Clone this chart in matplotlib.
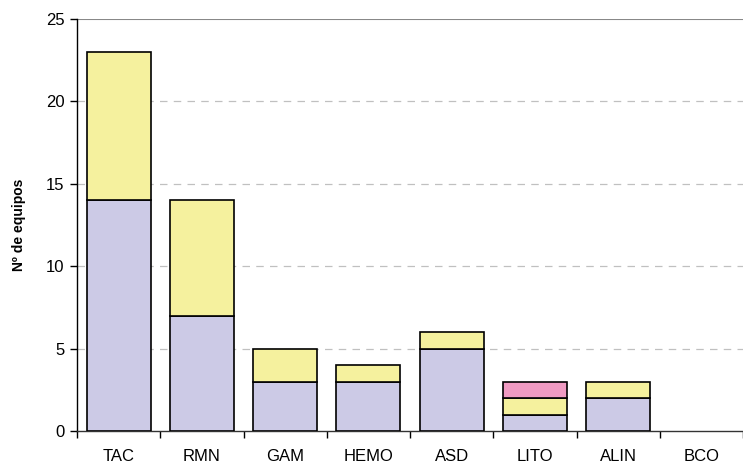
import matplotlib.pyplot as plt
import numpy as np

plt.rcParams['font.family'] = ['Liberation Sans', 'DejaVu Sans']

categorias = ['TAC', 'RMN', 'GAM', 'HEMO', 'ASD', 'LITO', 'ALIN', 'BCO']
serie_base = [14, 7, 3, 3, 5, 1, 2, 0]
serie_media = [9, 7, 2, 1, 1, 1, 1, 0]
serie_alta = [0, 0, 0, 0, 0, 1, 0, 0]

colores = ['#CCCAE6', '#F5F19E', '#F09AC2']

fig = plt.figure(figsize=(7.43, 4.63), dpi=100)
ax = fig.add_axes([77 / 743, 32 / 463, 1 - 77 / 743, 412 / 463])

x = np.arange(len(categorias))
ancho = 0.77
fondo = np.zeros(len(categorias))
for serie, color in zip([serie_base, serie_media, serie_alta], colores):
    vals = np.array(serie, dtype=float)
    mask = vals > 0
    ax.bar(x[mask], vals[mask], ancho, bottom=fondo[mask], color=color,
           edgecolor='black', linewidth=1.2, zorder=3)
    fondo += vals

ax.set_xlim(-0.5, len(categorias) - 0.5)
ax.set_ylim(0, 25)
ax.set_yticks([0, 5, 10, 15, 20, 25])
for y in [5, 10, 15, 20]:
    ax.axhline(y, color='#C0C0C0', linestyle=(0, (6, 5)), linewidth=0.9, zorder=1)
ax.axhline(25, color='#888888', linewidth=1.5, zorder=1)

ax.set_xticks(x)
ax.set_xticklabels(categorias)
ax.set_xticks(np.arange(len(categorias) + 1) - 0.5, minor=True)
ax.tick_params(axis='x', which='major', length=0, pad=13, labelsize=12)
ax.tick_params(axis='x', which='minor', length=5, direction='out', width=1)
ax.tick_params(axis='y', length=5, direction='out', labelsize=12, width=1, pad=4)

ax.spines['top'].set_visible(False)
ax.spines['right'].set_visible(False)
ax.spines['left'].set_linewidth(1)
ax.spines['bottom'].set_linewidth(1)
ax.spines['left'].set_color('black')
ax.spines['bottom'].set_color('#333333')

ax.set_ylabel('Nº de equipos', fontsize=10, fontweight='bold', labelpad=14)

fig.savefig('out.png', dpi=100)
